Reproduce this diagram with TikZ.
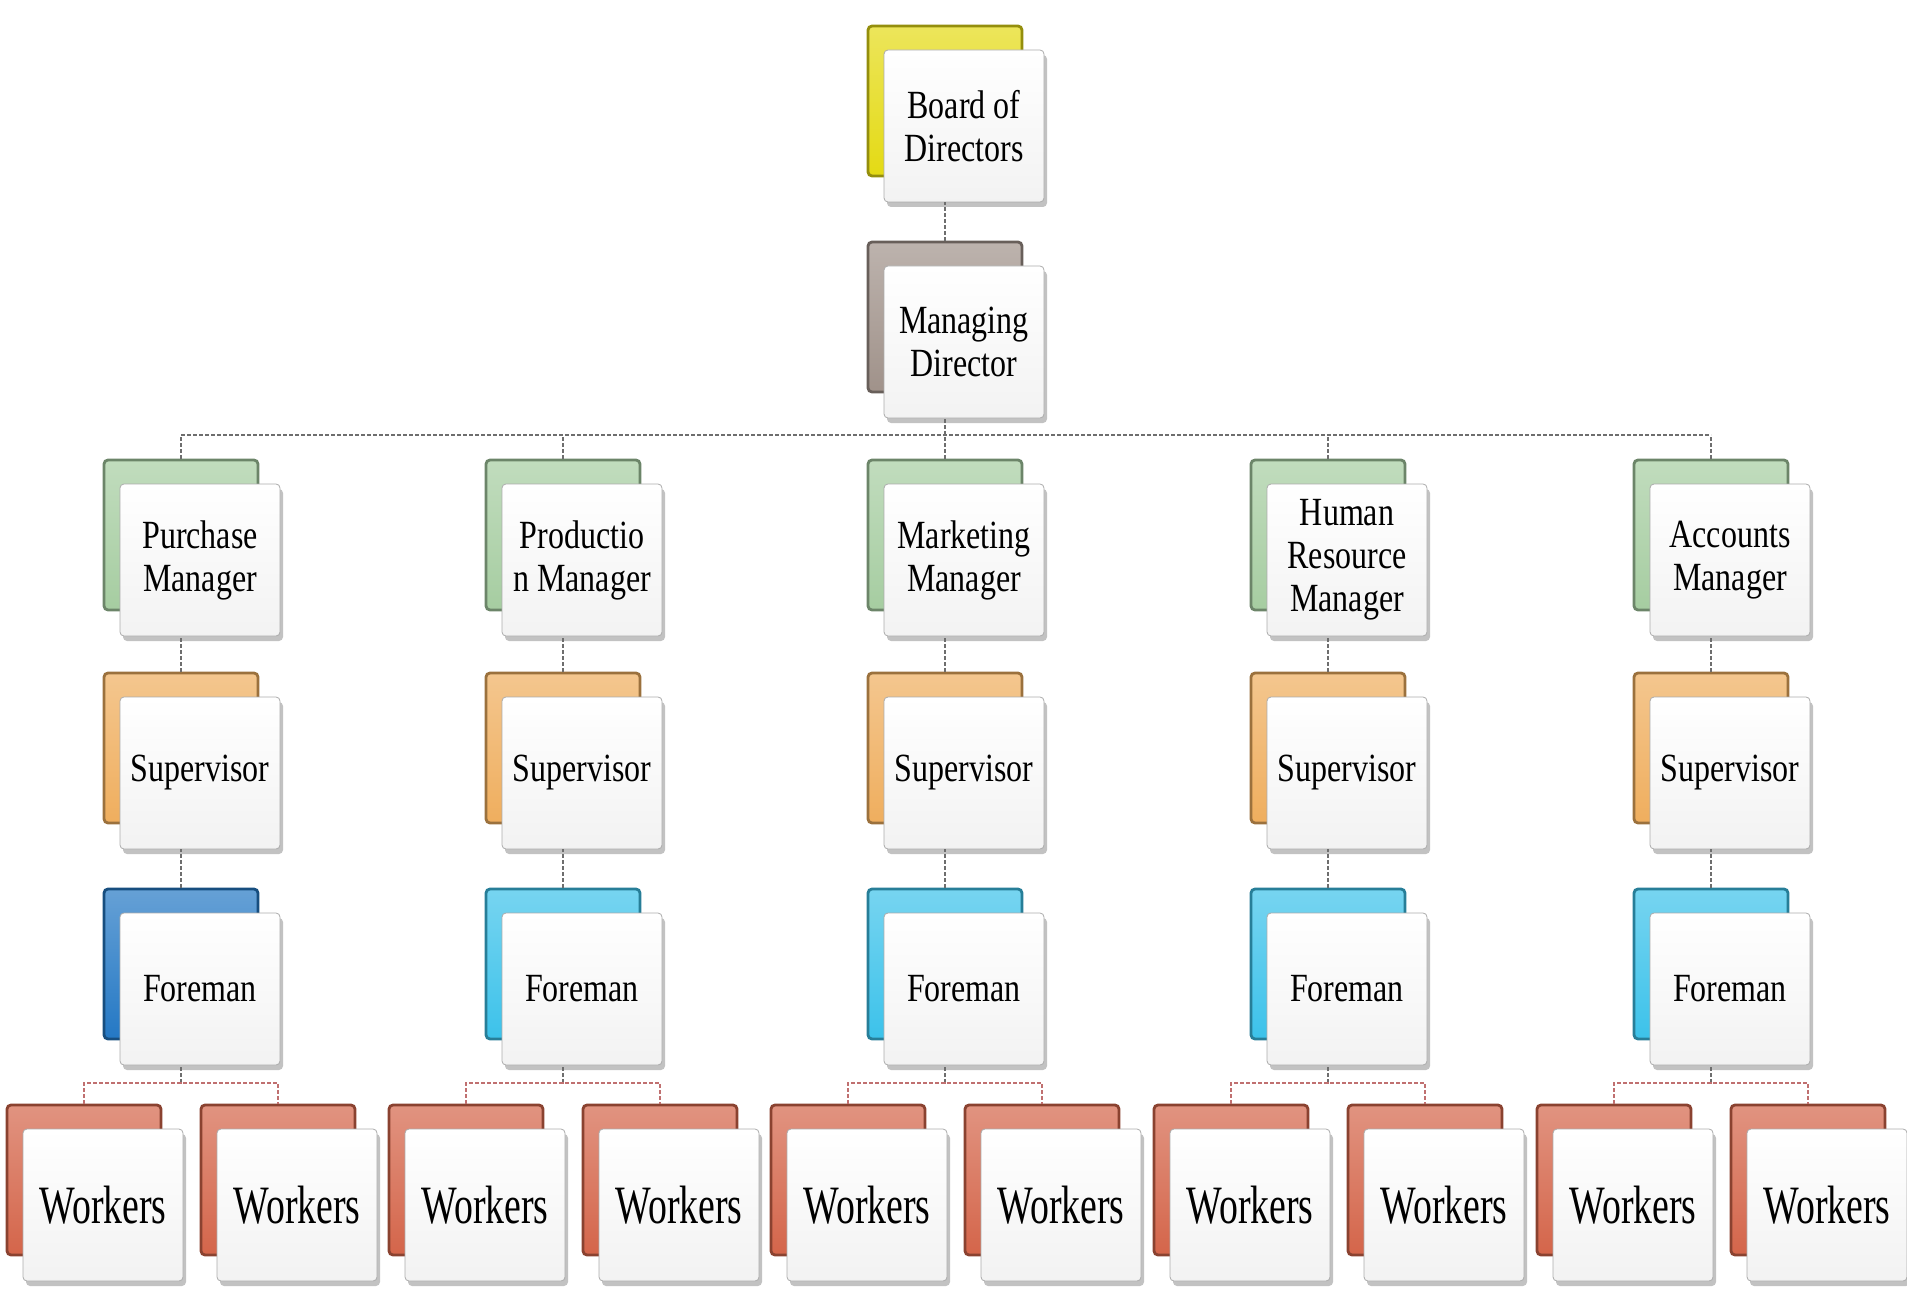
\documentclass[tikz,border=0pt]{standalone}
\usepackage{fontspec}
\setmainfont[FakeStretch=0.8]{Liberation Serif}
\newfontfamily\wkfont[FakeStretch=0.7]{Liberation Serif}
\usepackage{xcolor}
\usetikzlibrary{shadows}
\usetikzlibrary{positioning}

\definecolor{bodc}{HTML}{E4DA14}
\definecolor{mdc}{HTML}{A0928A}
\definecolor{mgrc}{HTML}{A6CDA1}
\definecolor{supc}{HTML}{EFAE5E}
\definecolor{fmdark}{HTML}{2478C4}
\definecolor{fmlight}{HTML}{3CC2EA}
\definecolor{wkc}{HTML}{D4654A}
\definecolor{linkc}{HTML}{6E6E6E}
\definecolor{wlinkc}{HTML}{C07070}

\tikzset{
  card/.style={draw=gray!65, rounded corners=2pt, top color=white, bottom color=gray!10,
    minimum width=80pt, minimum height=76pt, inner sep=1pt, align=center,
    font=\fontsize{20}{21.5}\selectfont,
    drop shadow={shadow xshift=1.5pt, shadow yshift=-2.5pt, fill=gray!80, opacity=0.6}},
  tab/.style={draw=#1!65!black, line width=1.4pt, rounded corners=2pt,
    top color=#1!70!white, bottom color=#1, minimum width=77pt, minimum height=75pt},
  link/.style={linkc, dash pattern=on 2pt off 1pt, line width=0.6pt},
  wlink/.style={wlinkc, dash pattern=on 2pt off 1pt, line width=0.7pt}
}

\begin{document}
\begin{tikzpicture}[x=0.5pt,y=-0.5pt]
\useasboundingbox (0,0) rectangle (1907,1289);

% top of the chart
\node[tab=bodc] (bodb) at (945,101) {};
\node[card] (bod) at (964,126) {Board of\\Directors};
\node[tab=mdc] (mdb) at (945,317) {};
\node[card] (md) at (964,342) {Managing\\Director};
\draw[link] (mdb.north) -- (mdb.north |- bod.south);
\coordinate (bus) at (945,435);
\draw[link] (bus) -- (mdb.north |- md.south);

% one column per department
\foreach \x/\t/\fc [count=\i] in {181/{Purchase\\Manager}/fmdark,
    563/{Productio\\n Manager}/fmlight, 945/{Marketing\\Manager}/fmlight,
    1328/{Human\\Resource\\Manager}/fmlight, 1711/{Accounts\\Manager}/fmlight}{
  \node[tab=mgrc] (m\i b) at (\x,535) {};
  \node[card] (m\i) at (\x+19,560) {\t};
  \node[tab=supc] (s\i b) at (\x,748) {};
  \node[card] (s\i) at (\x+19,773) {Supervisor};
  \node[tab=\fc] (f\i b) at (\x,964) {};
  \node[card] (f\i) at (\x+19,989) {Foreman};
  \node[tab=wkc] (wa\i-b) at (\x-97,1180) {};
  \node[card,font=\wkfont\fontsize{27}{29}\selectfont] (wa\i) at (\x-78,1205) {Workers};
  \node[tab=wkc] (wb\i-b) at (\x+97,1180) {};
  \node[card,font=\wkfont\fontsize{27}{29}\selectfont] (wb\i) at (\x+116,1205) {Workers};
  % connectors
  \draw[link] (m\i b.north) -- (m\i b.north |- bus);
  \draw[link] (s\i b.north) -- (s\i b.north |- m\i.south);
  \draw[link] (f\i b.north) -- (f\i b.north |- s\i.south);
  \coordinate (wbus\i) at (\x,1083);
  \draw[link] (wbus\i) -- (f\i b.north |- f\i.south);
  \draw[wlink] (wa\i-b.north) |- (wbus\i) -| (wb\i-b.north);
}
\draw[link] (bus -| m1b.north) -- (bus -| m5b.north);
\end{tikzpicture}
\end{document}
